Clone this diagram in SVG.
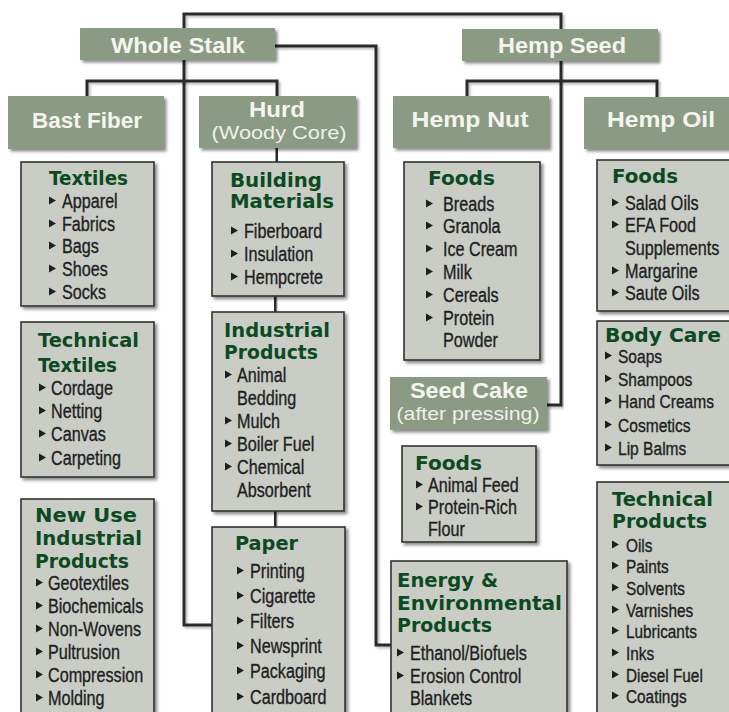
<svg xmlns="http://www.w3.org/2000/svg" xmlns:xlink="http://www.w3.org/1999/xlink" width="729" height="712" viewBox="0 0 729 712">
<defs>
<filter id="sh" x="-10%" y="-10%" width="130%" height="130%">
<feDropShadow dx="2.5" dy="2.5" stdDeviation="1.5" flood-color="#000" flood-opacity="0.45"/>
</filter>
<filter id="lsh" x="-20%" y="-20%" width="140%" height="140%">
<feDropShadow dx="2" dy="2" stdDeviation="1.2" flood-color="#000" flood-opacity="0.25"/>
</filter>
<path id="b" d="M0,-11.5 L7,-7.5 L0,-3.5 Z" fill="#1e1e1e"/>
</defs>
<style>
.hd{fill:#8b9a83;filter:url(#sh)}
.bx{fill:#c9cdc6;stroke:#333;stroke-width:1.6;filter:url(#sh)}
.ht{font-family:"Liberation Sans",Arial,sans-serif;font-weight:bold;font-size:22px;fill:#f5f5ef;text-anchor:middle}
.hs{font-family:"Liberation Sans",Arial,sans-serif;font-size:19px;fill:#f0f0ea;text-anchor:middle}
.tt{font-family:"DejaVu Sans",sans-serif;font-weight:bold;font-size:19px;fill:#0c4a22}
.it{font-family:"Liberation Sans",Arial,sans-serif;font-size:21px;fill:#1e1e1e;stroke:#1e1e1e;stroke-width:0.35;transform-box:fill-box;transform-origin:0 0;transform:scaleX(0.77)}
.sm{font-size:19px;transform:scaleX(0.82)}
.xs{font-size:18.5px;transform:scaleX(0.83)}
.cn{fill:none;stroke:#2a2a2a;stroke-width:3;filter:url(#lsh)}
</style>
<rect width="729" height="712" fill="#fff"/>
<g id="connectors">
<path class="cn" d="M353,0 V14"/>
<path class="cn" d="M184,30 V14 H561 V30"/>
<path class="cn" d="M275,46 H376 V645 H392"/>
<path class="cn" d="M184,60 V625 H212"/>
<path class="cn" d="M87,97 V81 H277 V97"/>
<path class="cn" d="M561,61 V405 H547"/>
<path class="cn" d="M467,97 V81 H657 V98"/>
<path class="cn" d="M87,149 V162 M87,306 V322 M87,477 V499"/>
<path class="cn" d="M277,148 V162 M275,296 V312 M275,511 V527"/>
<path class="cn" d="M467,148 V162 M467,360 V377 M467,430 V446"/>
<path class="cn" d="M658,150 V160 M658,311 V321 M658,465 V482"/>
</g>
<g id="whole-stalk"><rect class="hd" x="80" y="28" width="195" height="32"/><text class="ht" x="178" y="53" textLength="134" lengthAdjust="spacingAndGlyphs">Whole Stalk</text></g>
<g id="hemp-seed"><rect class="hd" x="462" y="29" width="196" height="32"/><text class="ht" x="562" y="53" textLength="128" lengthAdjust="spacingAndGlyphs">Hemp Seed</text></g>
<g id="bast-fiber"><rect class="hd" x="8" y="96" width="156" height="53"/><text class="ht" x="87" y="128" textLength="110" lengthAdjust="spacingAndGlyphs">Bast Fiber</text></g>
<g id="hurd"><rect class="hd" x="199" y="96" width="157" height="52"/><text class="ht" x="277" y="117" textLength="56" lengthAdjust="spacingAndGlyphs">Hurd</text><text class="hs" x="279" y="139" textLength="135" lengthAdjust="spacingAndGlyphs">(Woody Core)</text></g>
<g id="hemp-nut"><rect class="hd" x="393" y="96" width="156" height="52"/><text class="ht" x="470" y="127" textLength="117" lengthAdjust="spacingAndGlyphs">Hemp Nut</text></g>
<g id="hemp-oil"><rect class="hd" x="584" y="97" width="150" height="52"/><text class="ht" x="661" y="127" textLength="108" lengthAdjust="spacingAndGlyphs">Hemp Oil</text></g>
<g id="seed-cake"><rect class="hd" x="390" y="377" width="157" height="53"/><text class="ht" x="469" y="398" textLength="118" lengthAdjust="spacingAndGlyphs">Seed Cake</text><text class="hs" x="468" y="420" textLength="143" lengthAdjust="spacingAndGlyphs">(after pressing)</text></g>

<g id="textiles"><rect class="bx" x="21" y="162" width="133" height="144"/>
<text class="tt" x="49" y="185" textLength="79" lengthAdjust="spacingAndGlyphs">Textiles</text>
<use href="#b" x="49" y="208"/><text class="it" x="62" y="208">Apparel</text>
<use href="#b" x="49" y="231"/><text class="it" x="62" y="231">Fabrics</text>
<use href="#b" x="49" y="253"/><text class="it" x="62" y="253">Bags</text>
<use href="#b" x="49" y="276"/><text class="it" x="62" y="276">Shoes</text>
<use href="#b" x="49" y="299"/><text class="it" x="62" y="299">Socks</text>
</g>
<g id="technical-textiles"><rect class="bx" x="21" y="322" width="133" height="155"/>
<text class="tt" x="38" y="347" textLength="101" lengthAdjust="spacingAndGlyphs">Technical</text>
<text class="tt" x="38" y="372" textLength="79" lengthAdjust="spacingAndGlyphs">Textiles</text>
<use href="#b" x="39" y="395"/><text class="it" x="51" y="395">Cordage</text>
<use href="#b" x="39" y="418"/><text class="it" x="51" y="418">Netting</text>
<use href="#b" x="39" y="441"/><text class="it" x="51" y="441">Canvas</text>
<use href="#b" x="39" y="465"/><text class="it" x="51" y="465">Carpeting</text>
</g>
<g id="new-use"><rect class="bx" x="21" y="499" width="133" height="220"/>
<text class="tt" x="35" y="522" textLength="102" lengthAdjust="spacingAndGlyphs">New Use</text>
<text class="tt" x="35" y="545" textLength="107" lengthAdjust="spacingAndGlyphs">Industrial</text>
<text class="tt" x="35" y="568" textLength="94" lengthAdjust="spacingAndGlyphs">Products</text>
<use href="#b" x="36" y="590"/><text class="it" x="48" y="590">Geotextiles</text>
<use href="#b" x="36" y="613"/><text class="it" x="48" y="613">Biochemicals</text>
<use href="#b" x="36" y="636"/><text class="it" x="48" y="636">Non-Wovens</text>
<use href="#b" x="36" y="659"/><text class="it" x="48" y="659">Pultrusion</text>
<use href="#b" x="36" y="682"/><text class="it" x="48" y="682">Compression</text>
<use href="#b" x="36" y="705"/><text class="it" x="48" y="705">Molding</text>
</g>
<g id="building-materials"><rect class="bx" x="212" y="162" width="132" height="134"/>
<text class="tt" x="230" y="187" textLength="92" lengthAdjust="spacingAndGlyphs">Building</text>
<text class="tt" x="230" y="208" textLength="104" lengthAdjust="spacingAndGlyphs">Materials</text>
<use href="#b" x="231" y="238"/><text class="it" x="244" y="238">Fiberboard</text>
<use href="#b" x="231" y="261"/><text class="it" x="244" y="261">Insulation</text>
<use href="#b" x="231" y="284"/><text class="it" x="244" y="284">Hempcrete</text>
</g>
<g id="industrial-products"><rect class="bx" x="212" y="312" width="132" height="199"/>
<text class="tt" x="224" y="337" textLength="106" lengthAdjust="spacingAndGlyphs">Industrial</text>
<text class="tt" x="224" y="359" textLength="94" lengthAdjust="spacingAndGlyphs">Products</text>
<use href="#b" x="225" y="382"/><text class="it" x="237" y="382">Animal</text>
<text class="it" x="237" y="405">Bedding</text>
<use href="#b" x="225" y="428"/><text class="it" x="237" y="428">Mulch</text>
<use href="#b" x="225" y="451"/><text class="it" x="237" y="451">Boiler Fuel</text>
<use href="#b" x="225" y="474"/><text class="it" x="237" y="474">Chemical</text>
<text class="it" x="237" y="497">Absorbent</text>
</g>
<g id="paper"><rect class="bx" x="212" y="527" width="133" height="192"/>
<text class="tt" x="235" y="550" textLength="63" lengthAdjust="spacingAndGlyphs">Paper</text>
<use href="#b" x="237" y="578"/><text class="it" x="250" y="578">Printing</text>
<use href="#b" x="237" y="603"/><text class="it" x="250" y="603">Cigarette</text>
<use href="#b" x="237" y="628"/><text class="it" x="250" y="628">Filters</text>
<use href="#b" x="237" y="653"/><text class="it" x="250" y="653">Newsprint</text>
<use href="#b" x="237" y="678"/><text class="it" x="250" y="678">Packaging</text>
<use href="#b" x="237" y="704"/><text class="it" x="250" y="704">Cardboard</text>
</g>
<g id="hemp-nut-foods"><rect class="bx" x="404" y="162" width="136" height="198"/>
<text class="tt" x="428" y="185" textLength="67" lengthAdjust="spacingAndGlyphs">Foods</text>
<use href="#b" x="426" y="211"/><text class="it" x="443" y="211">Breads</text>
<use href="#b" x="426" y="233"/><text class="it" x="443" y="233">Granola</text>
<use href="#b" x="426" y="256"/><text class="it" x="443" y="256">Ice Cream</text>
<use href="#b" x="426" y="279"/><text class="it" x="443" y="279">Milk</text>
<use href="#b" x="426" y="302"/><text class="it" x="443" y="302">Cereals</text>
<use href="#b" x="426" y="325"/><text class="it" x="443" y="325">Protein</text>
<text class="it" x="443" y="347">Powder</text>
</g>
<g id="seed-cake-foods"><rect class="bx" x="402" y="446" width="134" height="96"/>
<text class="tt" x="415" y="470" textLength="67" lengthAdjust="spacingAndGlyphs">Foods</text>
<use href="#b" x="416" y="492"/><text class="it" x="428" y="492">Animal Feed</text>
<use href="#b" x="416" y="514"/><text class="it" x="428" y="514">Protein-Rich</text>
<text class="it" x="428" y="536">Flour</text>
</g>
<g id="energy"><rect class="bx" x="391" y="561" width="176" height="158"/>
<text class="tt" x="397" y="587" textLength="101" lengthAdjust="spacingAndGlyphs">Energy &amp;</text>
<text class="tt" x="397" y="610" textLength="165" lengthAdjust="spacingAndGlyphs">Environmental</text>
<text class="tt" x="397" y="632" textLength="95" lengthAdjust="spacingAndGlyphs">Products</text>
<use href="#b" x="397" y="660"/><text class="it" x="410" y="660">Ethanol/Biofuels</text>
<use href="#b" x="397" y="683"/><text class="it" x="410" y="683">Erosion Control</text>
<text class="it" x="410" y="705">Blankets</text>
</g>
<g id="hemp-oil-foods"><rect class="bx" x="597" y="160" width="140" height="151"/>
<text class="tt" x="612" y="183" textLength="66" lengthAdjust="spacingAndGlyphs">Foods</text>
<use href="#b" x="612" y="210"/><text class="it" x="625" y="210">Salad Oils</text>
<use href="#b" x="612" y="232"/><text class="it" x="625" y="232">EFA Food</text>
<text class="it" x="625" y="255">Supplements</text>
<use href="#b" x="612" y="278"/><text class="it" x="625" y="278">Margarine</text>
<use href="#b" x="612" y="300"/><text class="it" x="625" y="300">Saute Oils</text>
</g>
<g id="body-care"><rect class="bx" x="597" y="321" width="140" height="144"/>
<text class="tt" x="605" y="342" textLength="116" lengthAdjust="spacingAndGlyphs">Body Care</text>
<use href="#b" x="605" y="363"/><text class="it sm" x="618" y="363">Soaps</text>
<use href="#b" x="605" y="386"/><text class="it sm" x="618" y="386">Shampoos</text>
<use href="#b" x="605" y="408"/><text class="it sm" x="618" y="408">Hand Creams</text>
<use href="#b" x="605" y="432"/><text class="it sm" x="618" y="432">Cosmetics</text>
<use href="#b" x="605" y="455"/><text class="it sm" x="618" y="455">Lip Balms</text>
</g>
<g id="technical-products"><rect class="bx" x="597" y="482" width="140" height="237"/>
<text class="tt" x="612" y="506" textLength="101" lengthAdjust="spacingAndGlyphs">Technical</text>
<text class="tt" x="612" y="528" textLength="95" lengthAdjust="spacingAndGlyphs">Products</text>
<use href="#b" x="612" y="552"/><text class="it xs" x="626" y="552">Oils</text>
<use href="#b" x="612" y="573"/><text class="it xs" x="626" y="573">Paints</text>
<use href="#b" x="612" y="595"/><text class="it xs" x="626" y="595">Solvents</text>
<use href="#b" x="612" y="617"/><text class="it xs" x="626" y="617">Varnishes</text>
<use href="#b" x="612" y="638"/><text class="it xs" x="626" y="638">Lubricants</text>
<use href="#b" x="612" y="660"/><text class="it xs" x="626" y="660">Inks</text>
<use href="#b" x="612" y="682"/><text class="it xs" x="626" y="682">Diesel Fuel</text>
<use href="#b" x="612" y="703"/><text class="it xs" x="626" y="703">Coatings</text>
</g>
</svg>
